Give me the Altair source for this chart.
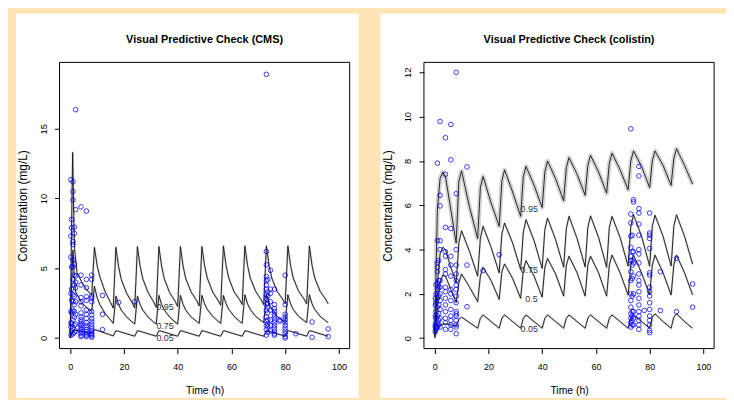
import altair as alt
import pandas as pd

W, H = 293, 289
FONT = "Liberation Sans"
BG = "#FEE5B8"

# ---------------- CMS percentile profiles (time h, conc mg/L) ----------------
cms_p95 = [(0, 0), (0.5, 8.0), (0.9, 13.3), (1.25, 9.4), (1.6, 6.4), (2.5, 4.7), (4.3, 4.0), (6, 3.5), (8, 3.05),
           (9, 6.5), (10, 5.2), (11, 4.4), (13, 3.3), (15, 2.55), (16, 2.15),
           (17, 6.5), (18, 5.1), (19, 4.2), (21, 3.2), (23, 2.55), (24, 2.15),
           (25, 6.55), (26, 5.15), (27, 4.25), (29, 3.25), (31, 2.6), (32, 2.2),
           (33, 6.55), (34, 5.15), (35, 4.25), (37, 3.25), (39, 2.65), (40, 2.25),
           (41, 6.55), (42, 5.15), (43, 4.25), (45, 3.3), (47, 2.7), (48, 2.3),
           (49, 6.55), (50, 5.2), (51, 4.3), (53, 3.3), (55, 2.7), (56, 2.35),
           (57, 6.6), (58, 5.2), (59, 4.3), (61, 3.3), (63, 2.75), (64, 2.4),
           (65, 6.6), (66, 5.2), (67, 4.3), (69, 3.35), (71, 2.75), (72, 2.4),
           (73, 6.6), (74, 5.2), (75, 4.3), (77, 3.35), (79, 2.8), (80, 2.45),
           (81, 6.6), (82, 5.2), (83, 4.3), (85, 3.35), (87, 2.8), (88, 2.45),
           (89, 6.6), (90, 5.2), (91, 4.3), (93, 3.35), (95, 2.8), (96, 2.45)]
cms_p75 = [(0, 0), (0.5, 4.0), (1, 6.3), (1.5, 4.4), (2, 3.3), (4, 2.6), (6, 2.2), (8, 1.9),
           (9, 3.7), (10, 2.9), (11, 2.4), (13, 1.75), (15, 1.3), (16, 1.05),
           (17, 3.0), (18, 2.4), (19, 2.0), (21, 1.5), (23, 1.15), (24, 1.0),
           (25, 3.0), (26, 2.4), (27, 2.0), (29, 1.5), (31, 1.15), (32, 1.0),
           (33, 3.05), (34, 2.4), (35, 2.0), (37, 1.5), (39, 1.15), (40, 1.0),
           (41, 3.05), (42, 2.4), (43, 2.0), (45, 1.5), (47, 1.2), (48, 1.05),
           (49, 3.05), (50, 2.45), (51, 2.05), (53, 1.55), (55, 1.2), (56, 1.05),
           (57, 3.05), (58, 2.45), (59, 2.05), (61, 1.55), (63, 1.2), (64, 1.05),
           (65, 3.1), (66, 2.45), (67, 2.05), (69, 1.55), (71, 1.25), (72, 1.1),
           (73, 3.1), (74, 2.45), (75, 2.05), (77, 1.55), (79, 1.25), (80, 1.1),
           (81, 3.1), (82, 2.45), (83, 2.05), (85, 1.55), (87, 1.25), (88, 1.1),
           (89, 3.1), (90, 2.45), (91, 2.05), (93, 1.55), (95, 1.25), (96, 1.1)]
cms_p05 = [(0, 0), (1, 0.5), (2, 0.55), (4, 0.5), (6, 0.42), (8, 0.35),
           (9, 0.6), (10, 0.55), (13, 0.35), (16, 0.15),
           (17, 0.52), (18, 0.48), (21, 0.3), (24, 0.13),
           (25, 0.52), (26, 0.48), (29, 0.3), (32, 0.13),
           (33, 0.52), (34, 0.48), (37, 0.3), (40, 0.13),
           (41, 0.52), (42, 0.48), (45, 0.3), (48, 0.13),
           (49, 0.52), (50, 0.48), (53, 0.3), (56, 0.13),
           (57, 0.52), (58, 0.48), (61, 0.3), (64, 0.13),
           (65, 0.52), (66, 0.48), (69, 0.3), (72, 0.13),
           (73, 0.52), (74, 0.48), (77, 0.3), (80, 0.13),
           (81, 0.52), (82, 0.48), (85, 0.3), (88, 0.13),
           (89, 0.52), (90, 0.48), (93, 0.3), (96, 0.13)]

# ---------------- colistin percentile profiles ----------------
col_p95 = [(0, 0.2), (0.5, 3.0), (1, 5.8), (2, 7.2), (3, 7.5), (4, 7.3), (6, 5.8), (8, 4.3),
           (9, 7.1), (10, 7.55), (13, 5.9), (16, 4.5),
           (17, 6.8), (18, 7.3), (21, 6.1), (24, 5.05),
           (25, 7.1), (26, 7.6), (29, 6.6), (32, 5.5),
           (33, 7.3), (34, 7.75), (37, 6.9), (40, 5.9),
           (41, 7.5), (42, 8.0), (45, 7.2), (48, 6.2),
           (49, 7.7), (50, 8.15), (53, 7.4), (56, 6.45),
           (57, 7.8), (58, 8.25), (61, 7.5), (64, 6.55),
           (65, 7.9), (66, 8.35), (69, 7.6), (72, 6.7),
           (73, 8.0), (74, 8.45), (77, 7.75), (80, 6.8),
           (81, 8.0), (82, 8.45), (85, 7.8), (88, 6.9),
           (89, 8.1), (90, 8.55), (93, 7.8), (96, 6.95)]
col_p75 = [(0, 0.1), (1, 2.5), (2, 3.8), (3, 4.1), (4, 4.0), (6, 3.2), (8, 2.5),
           (9, 4.3), (10, 4.85), (13, 3.9), (16, 2.8),
           (17, 4.5), (18, 5.05), (21, 4.1), (24, 2.95),
           (25, 4.7), (26, 5.2), (29, 4.3), (32, 3.1),
           (33, 4.8), (34, 5.35), (37, 4.4), (40, 3.15),
           (41, 4.9), (42, 5.42), (45, 4.45), (48, 3.2),
           (49, 4.95), (50, 5.5), (53, 4.5), (56, 3.22),
           (57, 5.0), (58, 5.52), (61, 4.55), (64, 3.2),
           (65, 5.0), (66, 5.5), (69, 4.55), (72, 3.25),
           (73, 5.05), (74, 5.57), (77, 4.6), (80, 3.25),
           (81, 5.05), (82, 5.55), (85, 4.6), (88, 3.26),
           (89, 5.05), (90, 5.57), (93, 4.6), (96, 3.34)]
col_p50 = [(0, 0.05), (1, 1.5), (2, 2.5), (3, 2.85), (4, 2.8), (6, 2.2), (8, 1.6),
           (9, 2.5), (10, 2.9), (13, 2.3), (16, 1.65),
           (17, 2.8), (18, 3.2), (21, 2.6), (24, 1.75),
           (25, 3.0), (26, 3.35), (29, 2.7), (32, 1.8),
           (33, 3.1), (34, 3.5), (37, 2.8), (40, 1.85),
           (41, 3.2), (42, 3.6), (45, 2.9), (48, 1.9),
           (49, 3.3), (50, 3.7), (53, 2.95), (56, 1.9),
           (57, 3.3), (58, 3.7), (61, 2.95), (64, 1.9),
           (65, 3.3), (66, 3.75), (69, 2.95), (72, 1.95),
           (73, 3.3), (74, 3.75), (77, 2.95), (80, 1.95),
           (81, 3.3), (82, 3.75), (85, 2.95), (88, 1.95),
           (89, 3.3), (90, 3.75), (93, 2.95), (96, 1.95)]
col_p05 = [(0, 0), (1, 0.45), (2, 0.6), (4, 0.65), (6, 0.6), (8, 0.55),
           (9, 0.85), (10, 0.95), (13, 0.7), (16, 0.45),
           (17, 0.9), (18, 1.05), (21, 0.75), (24, 0.45),
           (25, 0.9), (26, 1.05), (29, 0.75), (32, 0.45),
           (33, 0.9), (34, 1.05), (37, 0.75), (40, 0.45),
           (41, 0.9), (42, 1.05), (45, 0.75), (48, 0.45),
           (49, 0.9), (50, 1.05), (53, 0.75), (56, 0.45),
           (57, 0.9), (58, 1.05), (61, 0.75), (64, 0.45),
           (65, 0.9), (66, 1.05), (69, 0.75), (72, 0.45),
           (73, 0.9), (74, 1.05), (77, 0.75), (80, 0.45),
           (81, 0.95), (82, 1.1), (85, 0.75), (88, 0.45),
           (89, 0.95), (90, 1.1), (93, 0.75), (96, 0.45)]

# ---------------- observations: (nominal time, [concentrations]) ----------------
cms_obs = [
    (0.25, [0.2, 0.8, 1.1, 1.9, 3.2, 5.8, 7.3, 11.35]),
    (0.5, [0.5, 1.0, 1.8, 2.7, 3.5, 5.1, 7.9, 8.5]),
    (1, [0.3, 0.7, 1.3, 2.0, 2.6, 3.1, 4.2, 5.1, 5.6, 6.7, 6.9, 9.9, 10.5, 11.2]),
    (1.5, [0.4, 0.9, 1.5, 1.9, 2.4, 3.0, 3.8, 4.5, 5.3, 7.5, 7.95]),
    (2, [0.5, 1.0, 1.7, 2.6, 3.6, 4.0, 4.45, 9.2, 16.37]),
    (4, [0.1, 0.2, 0.35, 0.5, 0.6, 0.75, 0.9, 1.0, 1.15, 1.3, 1.5, 1.8, 2.3, 2.6, 2.9, 3.8, 4.5, 9.4]),
    (6, [0.1, 0.2, 0.3, 0.45, 0.6, 0.75, 0.9, 1.1, 1.4, 1.7, 2.0, 2.7, 2.95, 3.6, 4.2, 9.1]),
    (8, [0.05, 0.15, 0.25, 0.35, 0.5, 0.65, 0.8, 1.0, 1.2, 1.4, 1.65, 1.9, 2.6, 2.85, 3.0, 4.2, 4.5]),
    (12, [0.6, 1.7, 3.05]),
    (18, [2.55]),
    (24, [2.6]),
    (73, [0.2, 0.6, 0.9, 1.2, 1.5, 2.0, 2.4, 2.8, 3.1, 3.5, 3.8, 4.1, 4.4, 5.25, 6.2, 18.9]),
    (73.5, [0.4, 0.8, 1.0, 1.3, 1.8, 2.2, 2.5, 3.0, 3.3, 4.2]),
    (74.5, [0.5, 0.9, 1.3, 2.0, 2.6, 3.2, 3.5, 4.85]),
    (76, [0.2, 0.3, 0.5, 0.7, 0.9, 1.1, 1.3, 1.5, 1.7, 1.9, 2.1, 2.4, 3.5]),
    (78, [1.2, 1.3]),
    (80, [0.0, 0.1, 0.3, 0.5, 0.7, 0.9, 1.1, 1.3, 1.5, 1.7, 2.4, 4.5]),
    (84, [0.3]),
    (90, [0.05, 1.15]),
    (96, [0.1, 0.65]),
]
col_obs = [
    (0.25, [0.3, 0.5, 0.6, 1.0, 1.5, 1.8]),
    (0.5, [0.4, 0.5, 0.7, 0.9, 1.2, 1.6, 2.0, 2.4]),
    (1, [0.5, 0.7, 1.0, 1.4, 1.8, 2.2, 2.5, 3.0, 3.2, 3.4, 4.4, 7.9]),
    (1.5, [0.6, 0.8, 1.1, 1.5, 1.9, 2.3, 2.6, 3.5]),
    (2, [0.5, 0.9, 1.3, 1.7, 2.0, 2.3, 2.6, 4.0, 4.4, 5.97, 6.45, 9.78]),
    (4, [0.4, 0.7, 0.9, 1.2, 1.5, 1.8, 2.1, 2.3, 2.9, 3.1, 3.7, 3.9, 5.0, 7.4, 9.05]),
    (6, [0.4, 0.6, 0.8, 1.0, 1.3, 1.7, 2.0, 2.2, 2.8, 3.3, 3.7, 4.95, 8.05, 9.65]),
    (8, [0.2, 0.5, 0.6, 0.8, 1.0, 1.1, 1.2, 1.6, 1.9, 2.2, 2.4, 2.6, 2.9, 3.3, 4.0, 6.52, 12.0]),
    (12, [1.42, 3.3, 7.73]),
    (18, [3.05]),
    (24, [3.77]),
    (73, [0.5, 0.7, 0.9, 1.1, 1.4, 1.7, 2.0, 2.6, 3.0, 3.5, 3.7, 4.1, 4.6, 5.2, 5.6, 9.45]),
    (73.5, [0.6, 0.8, 1.0, 1.2, 1.9, 2.7, 3.3, 3.5, 3.9, 4.65]),
    (74, [0.6, 0.9, 1.2, 2.0, 2.8, 3.4, 3.9, 6.15, 6.25]),
    (76, [0.4, 0.6, 0.8, 1.0, 1.2, 1.5, 1.8, 2.1, 2.4, 2.6, 2.9, 3.4, 3.8, 4.0, 4.65, 5.15, 5.65, 5.85, 7.32, 7.75]),
    (78, [1.25]),
    (80, [0.25, 0.35, 0.6, 0.8, 1.0, 1.3, 1.6, 1.9, 2.1, 2.3, 2.85, 2.95, 4.05, 4.5, 4.65, 4.75, 5.65]),
    (84, [1.25, 3.0]),
    (90, [1.2, 3.6]),
    (96, [1.4, 2.45]),
]

# percentile labels
cms_lab = [(35.3, 2.23, "0.95"), (35.3, 0.88, "0.75"), (35.3, 0.03, "0.05")]
col_lab = [(35.2, 5.84, "0.95"), (35.2, 3.08, "0.75"), (36.0, 1.77, "0.5"), (35.2, 0.43, "0.05")]

x_ticks = [0, 20, 40, 60, 80, 100]


def lines_df(series):
    rows = []
    for name, pts in series:
        for t, v in pts:
            rows.append({"t": t, "v": v, "s": name})
    return pd.DataFrame(rows)


def obs_df(obs):
    rows = []
    for t, vals in obs:
        for v in vals:
            rows.append({"t": t, "v": v})
    return pd.DataFrame(rows)


def panel(title, series, obs, labels, ydom, yticks, wide_series, right_pad):
    ldf = lines_df(series)
    odf = obs_df(obs)
    labdf = pd.DataFrame(labels, columns=["t", "v", "lab"])
    one = pd.DataFrame({"a": [0]})

    xs = alt.Scale(domain=[-4, 104], nice=False, zero=False)
    ys = alt.Scale(domain=ydom, nice=False, zero=False)
    xax = alt.Axis(values=x_ticks, title="Time (h)", grid=False, domain=False, zindex=2,
                   tickSize=5, tickColor="black", labelFontSize=9, labelColor="black",
                   labelPadding=9, labelFont=FONT, titleFont=FONT, titleFontSize=10.5,
                   titleFontWeight="normal", titleColor="black", titleY=42, titleBaseline="middle")
    yax = alt.Axis(values=yticks, title="Concentration (mg/L)", grid=False, domain=False, zindex=2,
                   tickSize=5, tickColor="black", labelFontSize=9.5, labelColor="black",
                   labelAngle=-90, labelAlign="center", labelBaseline="alphabetic",
                   labelPadding=8.5, labelFont=FONT, titleFont=FONT, titleFontSize=12,
                   titleFontWeight="normal", titleColor="black", titleX=-37, titleY=H / 2,
                   titleAngle=-90, titleAlign="center", titleBaseline="middle")

    bg = alt.Chart(one).mark_rect(color="white").encode(
        x=alt.value(-44), x2=alt.value(W + right_pad), y=alt.value(-49), y2=alt.value(H + 50))

    band_wide = alt.Chart(ldf[ldf.s.isin(wide_series)]).mark_line(
        color="#d0d0d0", strokeWidth=4.5, strokeJoin="round").encode(
        x=alt.X("t:Q", scale=xs, axis=xax), y=alt.Y("v:Q", scale=ys, axis=yax), detail="s:N")
    band = alt.Chart(ldf).mark_line(color="#dadada", strokeWidth=2.2, strokeJoin="round").encode(
        x=alt.X("t:Q", scale=xs), y=alt.Y("v:Q", scale=ys), detail="s:N")
    line = alt.Chart(ldf).mark_line(color="#111111", strokeWidth=0.9).encode(
        x=alt.X("t:Q", scale=xs), y=alt.Y("v:Q", scale=ys), detail="s:N")
    pts = alt.Chart(odf).mark_point(shape="circle", filled=False, size=22, strokeWidth=0.9,
                                    color="#0000ff", opacity=0.85).encode(
        x=alt.X("t:Q", scale=xs), y=alt.Y("v:Q", scale=ys))
    txt = alt.Chart(labdf).mark_text(font=FONT, fontSize=9, color="#333333",
                                     align="center", baseline="middle").encode(
        x=alt.X("t:Q", scale=xs), y=alt.Y("v:Q", scale=ys), text="lab:N")
    box = alt.Chart(one).mark_rect(fill=None, stroke="black", strokeWidth=1).encode(
        x=alt.value(0), x2=alt.value(W), y=alt.value(0), y2=alt.value(H))
    ttl = alt.Chart(one).mark_text(text=title, font=FONT, fontSize=11, fontWeight="bold",
                                   color="black", align="center", baseline="middle").encode(
        x=alt.value(W / 2), y=alt.value(-23))

    return alt.layer(bg, band_wide, band, line, pts, txt, box, ttl).properties(width=W, height=H)


left = panel("Visual Predictive Check (CMS)",
             [("p95", cms_p95), ("p75", cms_p75), ("p05", cms_p05)],
             cms_obs, cms_lab, [-0.76, 19.76], [0, 5, 10, 15], [], 9)
right = panel("Visual Predictive Check (colistin)",
              [("p95", col_p95), ("p75", col_p75), ("p50", col_p50), ("p05", col_p05)],
              col_obs, col_lab, [-0.47, 12.45], [0, 2, 4, 6, 8, 10, 12], ["p95"], 12)

chart = alt.hconcat(left, right, spacing=75, bounds="flush").properties(
    background=BG, padding={"left": 8, "top": 4, "right": 0, "bottom": 0}
).configure_view(stroke=None)

chart.save("out.html", embed_options={"renderer": "svg", "actions": False})
